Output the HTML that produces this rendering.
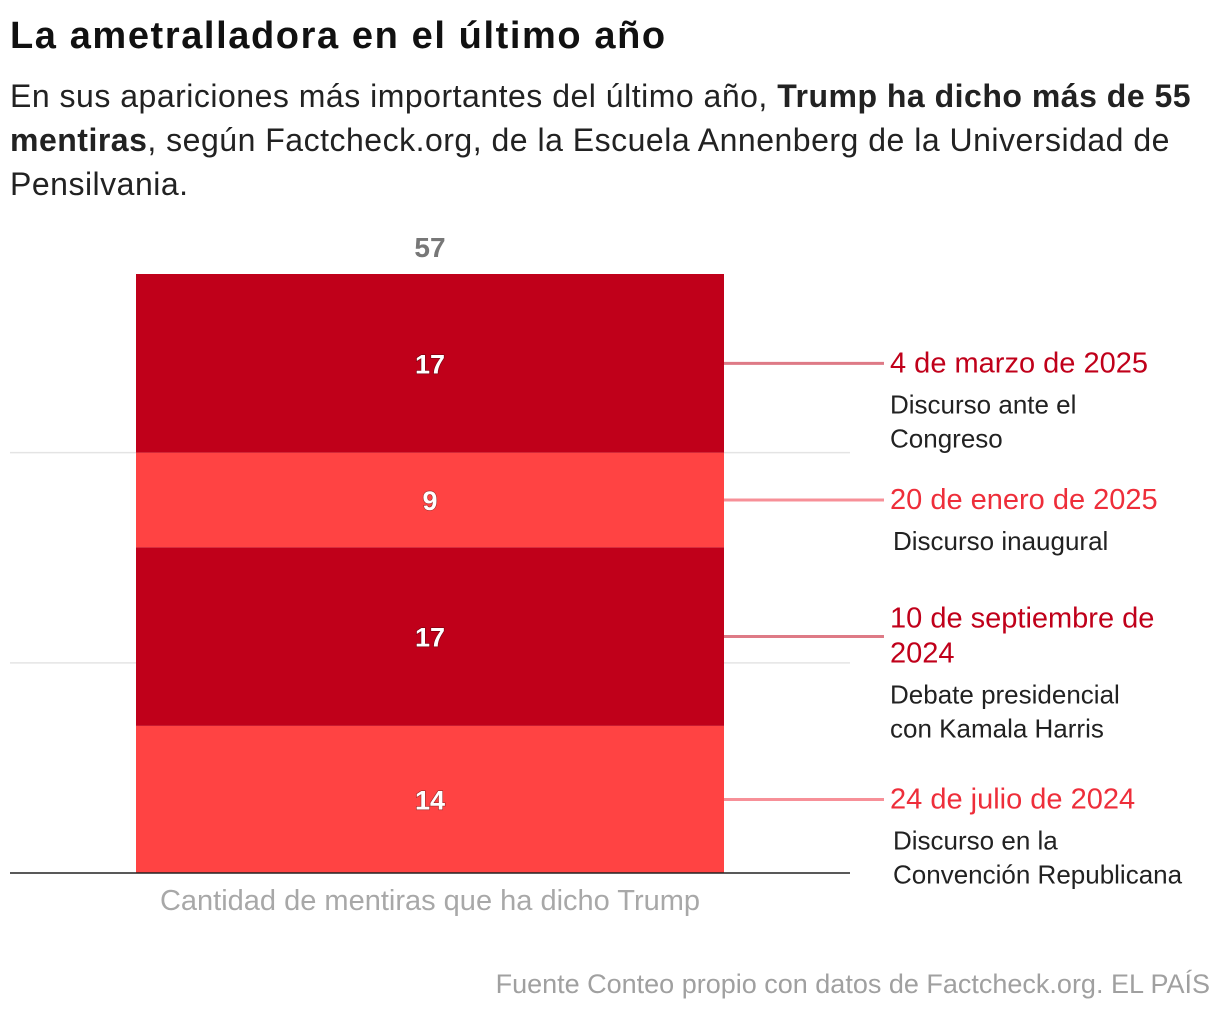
<!DOCTYPE html>
<html><head><meta charset="utf-8"><style>
body{margin:0;width:1220px;height:1014px;background:#fff;font-family:"Liberation Sans",sans-serif;position:relative;overflow:hidden}
.t{position:absolute;white-space:nowrap}
</style></head><body>
<div class="t" style="left:10px;top:15px;font-size:38px;font-weight:bold;color:#111;letter-spacing:1.6px">La ametralladora en el último año</div>
<div class="t" style="left:10px;top:74px;font-size:32px;line-height:44px;color:#222;white-space:normal;width:1200px;letter-spacing:0.5px">En sus apariciones más importantes del último año, <b>Trump ha dicho más de 55 mentiras</b>, según Factcheck.org, de la Escuela Annenberg de la Universidad de Pensilvania.</div>
<svg id="chart" width="1220" height="1014" style="position:absolute;left:0;top:0"></svg>
<div class="t" style="right:10px;top:969px;font-size:27px;color:#a0a0a0">Fuente Conteo propio con datos de Factcheck.org. EL PAÍS</div>
<script>
const values=[14,17,9,17];
const dates=["24 de julio de 2024","10 de septiembre de|2024","20 de enero de 2025","4 de marzo de 2025"];
const events=["Discurso en la|Convención Republicana","Debate presidencial|con Kamala Harris","Discurso inaugural","Discurso ante el|Congreso"];
const gridTicks=[20,40];
const total=values.reduce((a,b)=>a+b,0);
const NS="http://www.w3.org/2000/svg";
const svg=document.getElementById('chart');
const y0=873,k=599/57;
const y=v=>y0-v*k;
function mk(t,a){const e=document.createElementNS(NS,t);for(const n in a)e.setAttribute(n,a[n]);svg.appendChild(e);return e;}
gridTicks.forEach(g=>{const l=mk('line',{x1:10,x2:850,y1:y(g),y2:y(g),stroke:'#e4e4e4','stroke-width':1.5});

});
let cum=0;
values.forEach((v,i)=>{
 const dark=i%2==1;
 const col=dark?'#c0001a':'#ff4343';
 const r=mk('rect',{x:136,width:588,y:y(cum+v),height:v*k,fill:col});
 
 
 const mid=y(cum+v/2);
 const tx=mk('text',{x:430,y:mid+10,'text-anchor':'middle','font-size':27,'font-weight':'bold',fill:'#fff',stroke:'rgba(0,0,0,0.4)','stroke-width':1.2,'paint-order':'stroke'});
 tx.textContent=v;
 
 
 const ln=mk('line',{x1:724,x2:884,y1:mid,y2:mid,stroke:dark?'#de7a86':'#f79098','stroke-width':3});
 
 
 const dl=dates[i].split('|');
 let ty=mid+9-(dl.length-1)*18;
 dl.forEach((s,j)=>{const d=mk('text',{x:890,y:ty+j*35,'font-size':29,fill:dark?'#c0001a':'#ee2e3a'});d.textContent=s;
 
 });
 ty+= (dl.length-1)*35+41;
 events[i].split('|').forEach((s,j)=>{const d=mk('text',{x:i==0||i==2?893:890,y:ty+j*34,'font-size':26,fill:'#222'});d.textContent=s;
 
 });
 cum+=v;
});
const tt=mk('text',{x:430,y:y(total)-17,'text-anchor':'middle','font-size':28,'font-weight':'bold',fill:'#777'});
tt.textContent=total;


const ax=mk('line',{x1:10,x2:850,y1:y0,y2:y0,stroke:'#222','stroke-width':1.5});


const xl=mk('text',{x:430,y:910,'text-anchor':'middle','font-size':29,fill:'#a8a8a8'});
xl.textContent='Cantidad de mentiras que ha dicho Trump';


</script>
</body></html>
